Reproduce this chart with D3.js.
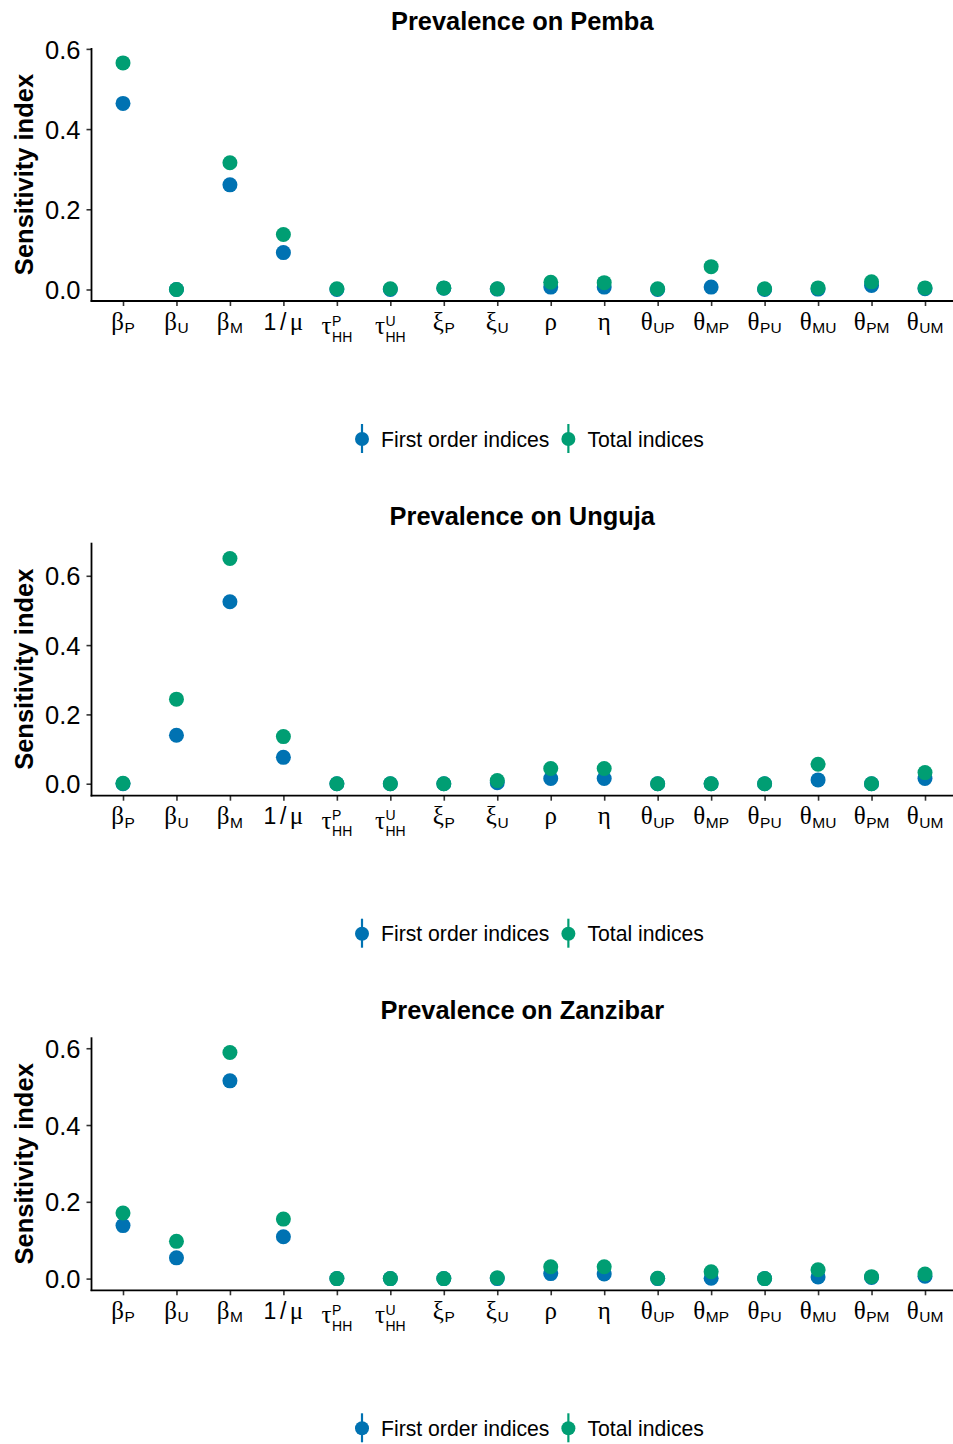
<!DOCTYPE html>
<html>
<head>
<meta charset="utf-8">
<script src="https://cdn.jsdelivr.net/npm/d3@7"></script>
<style>
  html, body { margin: 0; padding: 0; background: #fff; }
  svg { display: block; }
</style>
</head>
<body>
<svg id="chart" width="953" height="1444"></svg>
<script>
// Model parameters (x categories) and their plotmath-style tick labels
const parameters = ["betaP", "betaU", "betaM", "invMu", "tauP", "tauU", "xiP", "xiU",
                    "rho", "eta", "thetaUP", "thetaMP", "thetaPU", "thetaMU", "thetaPM", "thetaUM"];
const tickMain = ["β", "β", "β", "1/μ", "τ", "τ", "ξ", "ξ", "ρ", "η", "θ", "θ", "θ", "θ", "θ", "θ"];
const tickSub  = ["P", "U", "M", "", "HH", "HH", "P", "U", "", "", "UP", "MP", "PU", "MU", "PM", "UM"];
const tickSup  = ["", "", "", "", "P", "U", "", "", "", "", "", "", "", "", "", ""];
const yTicks = [0, 0.2, 0.4, 0.6];

// Sobol sensitivity indices for the prevalence on each island
const pembaFirst    = [0.464, 0.000, 0.261, 0.092, 0.000, 0.000, 0.003, 0.001, 0.006, 0.006, 0.000, 0.006, 0.000, 0.001, 0.010, 0.002];
const pembaTotal    = [0.565, 0.000, 0.316, 0.137, 0.002, 0.002, 0.004, 0.002, 0.018, 0.017, 0.002, 0.057, 0.002, 0.004, 0.019, 0.004];
const ungujaFirst   = [0.000, 0.140, 0.525, 0.076, 0.000, 0.000, 0.000, 0.003, 0.015, 0.015, 0.000, 0.000, 0.000, 0.011, 0.000, 0.015];
const ungujaTotal   = [0.001, 0.244, 0.650, 0.136, 0.000, 0.000, 0.000, 0.009, 0.044, 0.044, 0.000, 0.000, 0.000, 0.056, 0.000, 0.032];
const zanzibarFirst = [0.138, 0.054, 0.515, 0.109, 0.000, 0.000, 0.000, 0.000, 0.013, 0.012, 0.000, 0.001, 0.000, 0.004, 0.003, 0.006];
const zanzibarTotal = [0.171, 0.097, 0.589, 0.155, 0.000, 0.000, 0.000, 0.002, 0.031, 0.031, 0.001, 0.018, 0.000, 0.023, 0.005, 0.012];

const seriesNames = ["First order indices", "Total indices"];
const panelTitles = ["Prevalence on Pemba", "Prevalence on Unguja", "Prevalence on Zanzibar"];
const yDomains = [[-0.0287, 0.6022], [-0.0346, 0.6955], [-0.0305, 0.6285]];

const colors = { first: "#0072B2", total: "#009E73" };
const SANS = "'Liberation Sans', Arial, Helvetica, sans-serif";
const SERIF = "'Liberation Serif', 'DejaVu Serif', serif";

const svg = d3.select("#chart");

const panels = [
  { title: panelTitles[0], first: pembaFirst,    total: pembaTotal,    yDomain: yDomains[0], top: 48 },
  { title: panelTitles[1], first: ungujaFirst,   total: ungujaTotal,   yDomain: yDomains[1], top: 542.7 },
  { title: panelTitles[2], first: zanzibarFirst, total: zanzibarTotal, yDomain: yDomains[2], top: 1037.3 }
];

const panelHeight = 253;
const axisX = 91.5;
const rightEdge = 953;

const x = d3.scalePoint().domain(parameters).range([123, 925]);

const isGreek = ch => /[\u0370-\u03FF\u00B5\u03BC]/.test(ch);

// Draws a label made of a main symbol with an optional subscript and superscript
function drawTickLabel(sel, i) {
  const hasSup = tickSup[i] !== "";
  const mainBase = hasSup ? 33 : 28.5;
  const greekSize = 25, sansSize = 23;
  const scriptSize = hasSup ? 14 : 15.5;

  const t = sel.append("text")
    .attr("y", mainBase)
    .attr("fill", "#000");
  const chars = Array.from(tickMain[i]);
  chars.forEach((ch, k) => {
    t.append("tspan")
      .attr("dx", chars.length > 1 && k > 0 ? 3.5 : 0)
      .style("font-family", isGreek(ch) ? SERIF : SANS)
      .style("font-size", (isGreek(ch) ? greekSize : sansSize) + "px")
      .text(ch);
  });
  const mainW = t.node().getComputedTextLength() + (chars.length > 1 ? 7 : 0);
  let scriptW = 0;
  if (tickSub[i]) {
    const s = sel.append("text")
      .attr("x", mainW + 0.5)
      .attr("y", hasSup ? 40.5 : 32)
      .attr("fill", "#000")
      .style("font-family", SANS)
      .style("font-size", scriptSize + "px")
      .text(tickSub[i]);
    scriptW = Math.max(scriptW, s.node().getComputedTextLength() + 0.5);
  }
  if (hasSup) {
    const s = sel.append("text")
      .attr("x", mainW + 0.5)
      .attr("y", 24.5)
      .attr("fill", "#000")
      .style("font-family", SANS)
      .style("font-size", scriptSize + "px")
      .text(tickSup[i]);
    scriptW = Math.max(scriptW, s.node().getComputedTextLength() + 0.5);
  }
  const total = mainW + scriptW;
  sel.attr("transform", `translate(${x(parameters[i]) - total / 2},0)`);
}

panels.forEach(p => {
  const bottom = p.top + panelHeight;
  const y = d3.scaleLinear().domain(p.yDomain).range([bottom, p.top]);
  const g = svg.append("g");

  // Title
  g.append("text")
    .attr("x", (axisX + rightEdge) / 2)
    .attr("y", p.top - 18)
    .attr("text-anchor", "middle")
    .style("font-family", SANS)
    .style("font-weight", "bold")
    .style("font-size", "25.4px")
    .text(p.title);

  // Y axis
  const yAxis = d3.axisLeft(y).tickValues(yTicks).tickFormat(d3.format(".1f"))
    .tickSize(5).tickPadding(6);
  const ya = g.append("g").attr("transform", `translate(${axisX},0)`).call(yAxis);
  ya.select(".domain").remove();
  ya.selectAll(".tick line").attr("stroke", "#333").attr("stroke-width", 1.6);
  ya.selectAll(".tick text")
    .attr("fill", "#000")
    .style("font-family", SANS)
    .style("font-size", "25.5px")
    .attr("dy", "0.36em");

  // X axis with custom plotmath-style labels
  const xAxis = d3.axisBottom(x).tickSize(5).tickFormat("");
  const xa = g.append("g").attr("transform", `translate(0,${bottom})`).call(xAxis);
  xa.select(".domain").remove();
  xa.selectAll(".tick line").attr("stroke", "#333").attr("stroke-width", 1.6);
  xa.selectAll(".tick text").remove();
  const labels = g.append("g").attr("transform", `translate(0,${bottom})`);
  parameters.forEach((d, i) => drawTickLabel(labels.append("g"), i));

  // Axis lines
  g.append("line")
    .attr("x1", axisX).attr("x2", axisX)
    .attr("y1", p.top).attr("y2", bottom + 0.8)
    .attr("stroke", "#000").attr("stroke-width", 1.8);
  g.append("line")
    .attr("x1", axisX - 0.9).attr("x2", rightEdge)
    .attr("y1", bottom).attr("y2", bottom)
    .attr("stroke", "#000").attr("stroke-width", 1.8);

  // Y axis title
  g.append("text")
    .attr("transform", `translate(33,${(p.top + bottom) / 2}) rotate(-90)`)
    .attr("text-anchor", "middle")
    .style("font-family", SANS)
    .style("font-weight", "bold")
    .style("font-size", "25.5px")
    .text("Sensitivity index");

  // Points: first-order underneath, total on top
  g.append("g").selectAll("circle")
    .data(parameters.map((d, i) => ({ key: d, v: p.first[i] })))
    .join("circle")
    .attr("cx", d => x(d.key))
    .attr("cy", d => y(d.v))
    .attr("r", 7.5)
    .attr("fill", colors.first);
  g.append("g").selectAll("circle")
    .data(parameters.map((d, i) => ({ key: d, v: p.total[i] })))
    .join("circle")
    .attr("cx", d => x(d.key))
    .attr("cy", d => y(d.v))
    .attr("r", 7.5)
    .attr("fill", colors.total);

  // Legend
  const ly = bottom + 138;
  const lg = g.append("g");
  let cx = 362;
  [[seriesNames[0], colors.first], [seriesNames[1], colors.total]].forEach(([name, col]) => {
    lg.append("line")
      .attr("x1", cx).attr("x2", cx)
      .attr("y1", ly - 15).attr("y2", ly + 14)
      .attr("stroke", col).attr("stroke-width", 2.2);
    lg.append("circle").attr("cx", cx).attr("cy", ly).attr("r", 7).attr("fill", col);
    const t = lg.append("text")
      .attr("x", cx + 19)
      .attr("y", ly + 7.5)
      .attr("fill", "#000")
      .style("font-family", SANS)
      .style("font-size", "21.2px")
      .text(name);
    cx = cx + 19 + t.node().getComputedTextLength() + 19;
  });
});
</script>
</body>
</html>
